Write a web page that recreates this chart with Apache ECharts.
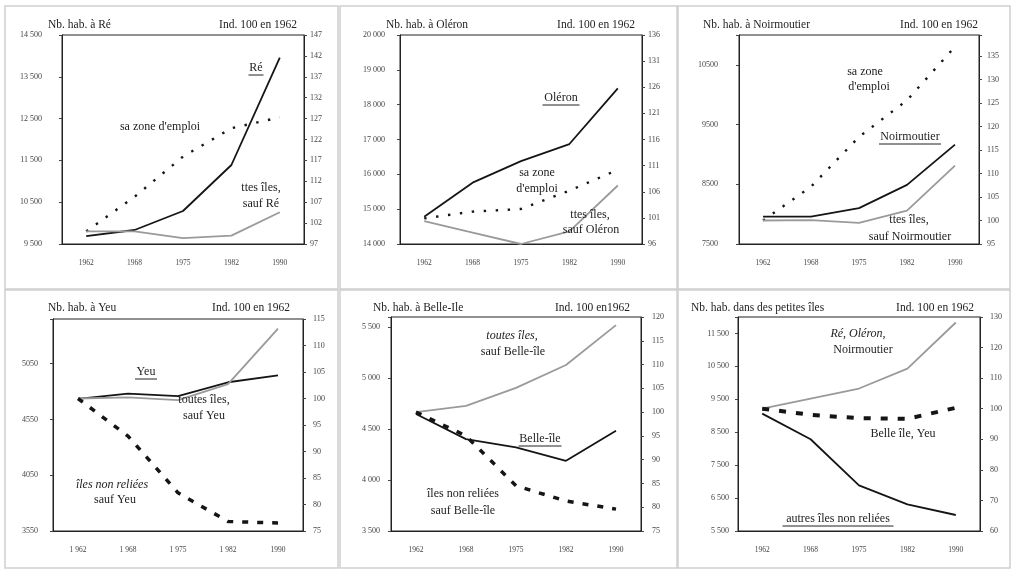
<!DOCTYPE html>
<html><head><meta charset="utf-8">
<script src="https://cdn.jsdelivr.net/npm/echarts@6/dist/echarts.min.js"></script>
<style>html,body{margin:0;padding:0;background:#fff}#c{width:1017px;height:574px}</style>
</head><body><div id="c"></div>
<script>
// ---- Data ----
var years = ['1962', '1968', '1975', '1982', '1990'];
var yearsYeu = ['1 962', '1 968', '1 975', '1 982', '1990'];

// Ré
var reHab = [9690, 9835, 10290, 11390, 13960];
var reZone = [100, 108.3, 117.9, 124.7, 127.3];
var reAutres = [100, 100, 98.4, 99, 104.6];
// Oléron
var oleronHab = [14785, 15760, 16380, 16870, 18470];
var oleronZone = [100.9, 102.2, 102.7, 106.2, 110.2];
var oleronAutres = [100.4, 98.2, 96, 98.4, 107.2];
// Noirmoutier
var noirHab = [7959, 7960, 8100, 8490, 9164];
var noirZone = [100, 107.2, 117.8, 125.6, 137];
var noirAutres = [100, 100.1, 99.5, 102.1, 111.7];
// Yeu
var yeuHab = [4734, 4781, 4758, 4883, 4945];
var yeuAutres = [100, 100.2, 99.7, 102.7, 113.2];
var yeuNonReliees = [100, 92.9, 82.2, 76.8, 76.5];
// Belle-Ile
var belleHab = [4648, 4402, 4320, 4189, 4484];
var belleAutres = [100, 101.3, 105.1, 109.9, 118.3];
var belleNonReliees = [100, 95, 84.5, 81.3, 79.6];
// Petites îles
var petitesAutres = [9066, 8286, 6888, 6311, 5986];
var petitesGrandes = [100, 103.3, 106.6, 113.1, 128.2];
var petitesBelleYeu = [100, 98.0, 96.9, 96.7, 100.3];

// ---- Layout ----
var FONT = 'Liberation Serif';
var grids = [
  {left: 62, top: 35, width: 242, height: 209},
  {left: 400, top: 35, width: 242, height: 209},
  {left: 739, top: 35, width: 240, height: 209},
  {left: 53, top: 319, width: 250, height: 212},
  {left: 391, top: 317, width: 250, height: 214},
  {left: 738, top: 317, width: 242, height: 214}
];
// [min, max, interval, spaceSep, labelMargin]
var leftAxes = [
  [9500, 14500, 1000, true, 20],
  [14000, 20000, 1000, true, 15],
  [7500, 11000, 1000, false, 21],
  [3550, 5450, 500, false, 15],
  [3500, 5600, 500, true, 11],
  [5500, 12000, 1000, true, 9]
];
var rightAxes = [
  [97, 147, 5, 6],
  [96, 136, 5, 6],
  [95, 139.5, 5, 8],
  [75, 115, 5, 10],
  [75, 120, 5, 11],
  [60, 130, 10, 10]
];

function fmt(v, sep) {
  var s = String(Math.round(v));
  if (sep && s.length > 3) s = s.slice(0, s.length - 3) + ' ' + s.slice(s.length - 3);
  return s;
}

var xAxis = [], yAxis = [], series = [];
for (var i = 0; i < 6; i++) {
  xAxis.push({
    type: 'category', gridIndex: i, data: i === 3 ? yearsYeu : years,
    axisLine: {lineStyle: {color: '#222', width: 1}},
    axisTick: {show: false},
    axisLabel: {fontFamily: FONT, fontSize: 7.5, color: '#444', margin: 15}
  });
  (function (la, ra, gi) {
    yAxis.push({
      type: 'value', gridIndex: gi, position: 'left', min: la[0], max: la[1], interval: la[2],
      axisLine: {show: true, lineStyle: {color: '#222', width: 1}},
      axisTick: {show: true, length: 3, lineStyle: {color: '#444'}},
      splitLine: {show: false},
      axisLabel: {fontFamily: FONT, fontSize: 8, color: '#444', margin: la[4],
        formatter: function (v) {
          var k = (v - la[0]) / la[2];
          if (Math.abs(k - Math.round(k)) > 1e-6) return '';
          return fmt(v, la[3]);
        }}
    });
    yAxis.push({
      type: 'value', gridIndex: gi, position: 'right', min: ra[0], max: ra[1], interval: ra[2],
      axisLine: {show: true, lineStyle: {color: '#222', width: 1}},
      axisTick: {show: true, length: 3, lineStyle: {color: '#444'}},
      splitLine: {show: false},
      axisLabel: {fontFamily: FONT, fontSize: 8, color: '#444', margin: ra[3],
        formatter: function (v) {
          var k = (v - ra[0]) / ra[2];
          if (Math.abs(k - Math.round(k)) > 1e-6) return '';
          return String(Math.round(v));
        }}
    });
  })(leftAxes[i], rightAxes[i], i);
}

var BLACK = '#151515', GRAY = '#9a9a9a';
function line(name, gi, axis, data, style) {
  series.push({
    name: name, type: 'line', xAxisIndex: gi, yAxisIndex: gi * 2 + axis, data: data,
    symbol: 'none', silent: true, animation: false,
    lineStyle: style
  });
}
var solidBlack = {color: BLACK, width: 1.8};
var solidGray = {color: GRAY, width: 1.8};
var dotted = {color: BLACK, width: 2.4, type: [2.4, 9.6]};
var dashed = {color: BLACK, width: 3.5, type: [6, 9]};

line('Ré', 0, 0, reHab, solidBlack);
line('sa zone d\'emploi', 0, 1, reZone, dotted);
line('ttes îles, sauf Ré', 0, 1, reAutres, solidGray);

line('Oléron', 1, 0, oleronHab, solidBlack);
line('sa zone d\'emploi', 1, 1, oleronZone, dotted);
line('ttes îles, sauf Oléron', 1, 1, oleronAutres, solidGray);

line('Noirmoutier', 2, 0, noirHab, solidBlack);
line('sa zone d\'emploi', 2, 1, noirZone, dotted);
line('ttes îles, sauf Noirmoutier', 2, 1, noirAutres, solidGray);

line('Yeu', 3, 0, yeuHab, solidBlack);
line('toutes îles, sauf Yeu', 3, 1, yeuAutres, solidGray);
line('îles non reliées sauf Yeu', 3, 1, yeuNonReliees, dashed);

line('Belle-île', 4, 0, belleHab, solidBlack);
line('toutes îles, sauf Belle-île', 4, 1, belleAutres, solidGray);
line('îles non reliées sauf Belle-île', 4, 1, belleNonReliees, dashed);

line('autres îles non reliées', 5, 0, petitesAutres, solidBlack);
line('Ré, Oléron, Noirmoutier', 5, 1, petitesGrandes, solidGray);
line('Belle île, Yeu', 5, 1, petitesBelleYeu, {color: BLACK, width: 4, type: [7, 10]});

// ---- Graphic texts ----
var graphic = [];
var frames = [[5, 6, 333, 283], [340, 6, 337, 283], [678, 6, 332, 283],
              [5, 290, 333, 278], [340, 290, 337, 278], [678, 290, 332, 278]];
frames.forEach(function (f) {
  graphic.push({type: 'rect', shape: {x: f[0], y: f[1], width: f[2], height: f[3]},
    style: {fill: 'none', stroke: '#cfcfcf', lineWidth: 1.5}, silent: true, z: -1});
});
function txt(s, x, y, align, opts) {
  opts = opts || {};
  graphic.push({type: 'text', x: x, y: y, silent: true, z: 100,
    style: {text: s, fontFamily: FONT, fontSize: opts.size || 12, fontStyle: opts.italic ? 'italic' : 'normal',
      fill: '#222', textAlign: align || 'left', textVerticalAlign: 'middle'}});
  if (opts.underline) {
    var w = opts.underline;
    var x0 = align === 'center' ? x - w / 2 : x;
    graphic.push({type: 'line', silent: true, z: 100,
      shape: {x1: x0, y1: y + 7, x2: x0 + w, y2: y + 7}, style: {stroke: '#222', lineWidth: 1}});
  }
}
// Titles
txt('Nb. hab. à Ré', 48, 25, 'left', {size: 11.5});
txt('Ind. 100 en 1962', 297, 25, 'right', {size: 11.5});
txt('Nb. hab. à Oléron', 386, 25, 'left', {size: 11.5});
txt('Ind. 100 en 1962', 635, 25, 'right', {size: 11.5});
txt('Nb. hab. à Noirmoutier', 703, 25, 'left', {size: 11.5});
txt('Ind. 100 en 1962', 978, 25, 'right', {size: 11.5});
txt('Nb. hab. à Yeu', 48, 308, 'left', {size: 11.5});
txt('Ind. 100 en 1962', 290, 308, 'right', {size: 11.5});
txt('Nb. hab. à Belle-Ile', 373, 308, 'left', {size: 11.5});
txt('Ind. 100 en1962', 630, 308, 'right', {size: 11.5});
txt('Nb. hab. dans des petites îles', 691, 308, 'left', {size: 11.5});
txt('Ind. 100 en 1962', 974, 308, 'right', {size: 11.5});
// Annotations
txt('Ré', 256, 68, 'center', {underline: 15});
txt('sa zone d\'emploi', 160, 127, 'center');
txt('ttes îles,', 261, 188, 'center');
txt('sauf Ré', 261, 204, 'center');

txt('Oléron', 561, 98, 'center', {underline: 37});
txt('sa zone', 537, 173, 'center');
txt('d\'emploi', 537, 189, 'center');
txt('ttes îles,', 590, 215, 'center');
txt('sauf Oléron', 591, 230, 'center');

txt('sa zone', 865, 72, 'center');
txt('d\'emploi', 869, 87, 'center');
txt('Noirmoutier', 910, 137, 'center', {underline: 62});
txt('ttes îles,', 909, 220, 'center');
txt('sauf Noirmoutier', 910, 237, 'center');

txt('Yeu', 146, 372, 'center', {underline: 22});
txt('toutes îles,', 204, 400, 'center');
txt('sauf Yeu', 204, 416, 'center');
txt('îles non reliées', 112, 485, 'center', {italic: true});
txt('sauf Yeu', 115, 500, 'center');

txt('toutes îles,', 512, 336, 'center', {italic: true});
txt('sauf Belle-île', 513, 352, 'center');
txt('Belle-île', 540, 439, 'center', {underline: 43});
txt('îles non reliées', 463, 494, 'center');
txt('sauf Belle-île', 463, 511, 'center');

txt('Ré, Oléron,', 858, 334, 'center', {italic: true});
txt('Noirmoutier', 863, 350, 'center');
txt('Belle île, Yeu', 903, 434, 'center');
txt('autres îles non reliées', 838, 519, 'center', {underline: 111});

var chart = echarts.init(document.getElementById('c'), null, {renderer: 'canvas'});
chart.setOption({
  backgroundColor: '#ffffff',
  animation: false,
  grid: grids.map(function (g) {
    return {left: g.left, top: g.top, width: g.width, height: g.height, show: true,
      borderColor: '#222', borderWidth: 1, backgroundColor: 'transparent', containLabel: false};
  }),
  xAxis: xAxis,
  yAxis: yAxis,
  series: series,
  graphic: graphic
});
</script></body></html>
